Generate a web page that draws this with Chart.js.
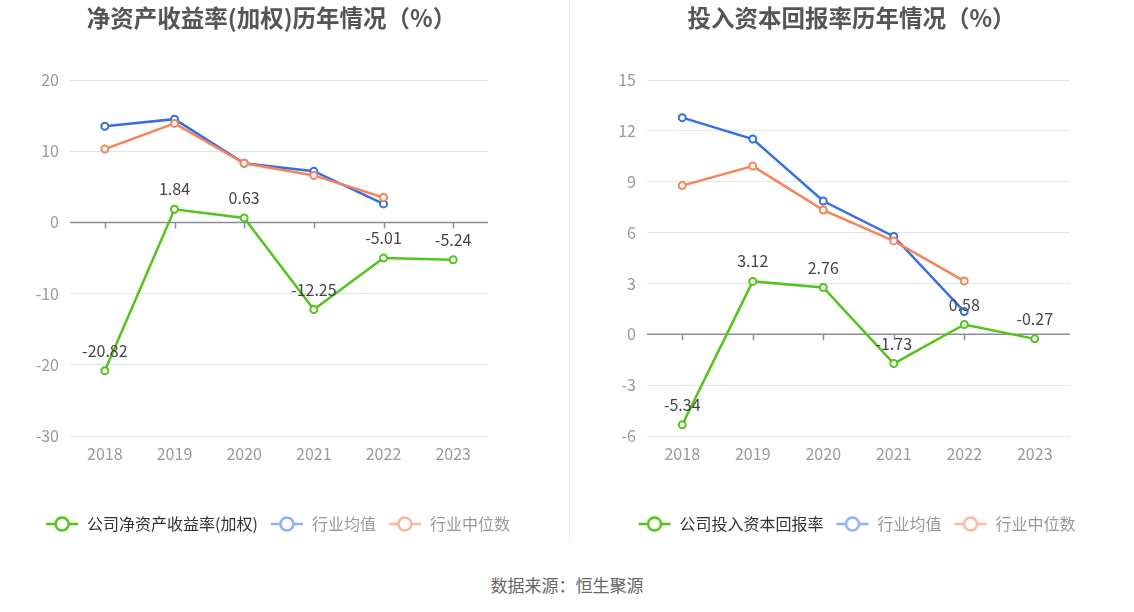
<!DOCTYPE html>
<html>
<head>
<meta charset="utf-8">
<script src="https://cdn.jsdelivr.net/npm/chart.js@4/dist/chart.umd.min.js"></script>
<style>
  html, body { margin: 0; padding: 0; background: #fff; }
  #page { position: relative; width: 1134px; height: 612px; font-family: "Noto Sans CJK SC", "Noto Sans", sans-serif; }
  .panel { position: absolute; top: 0; width: 567px; height: 552px; }
  .title { position: absolute; top: 2px; width: 567px; text-align: center; font-size: 23.5px; font-weight: bold; color: #555; line-height: 30px; }
  #divider { position: absolute; left: 569px; top: 0; width: 1px; height: 542px; background: #eceef2; }
  #source { position: absolute; left: 0; width: 1134px; top: 572px; text-align: center; font-size: 17px; color: #666; }
</style>
</head>
<body>
<div id="page">
  <div class="panel" style="left:-6px"><canvas id="roe"></canvas></div>
  <div class="panel" style="left:573px"><canvas id="roic"></canvas></div>
  <div class="title" style="left:-12px">净资产收益率(加权)历年情况（%）</div>
  <div class="title" style="left:568px">投入资本回报率历年情况（%）</div>
  <div id="divider"></div>
  <div id="source">数据来源：恒生聚源</div>
</div>
<script>
// data
const years = ['2018', '2019', '2020', '2021', '2022', '2023'];

const roeCompany = [-20.82, 1.84, 0.63, -12.25, -5.01, -5.24];
const roeAvg = [13.5, 14.5, 8.3, 7.2, 2.6, null];
const roeMedian = [10.3, 13.9, 8.3, 6.6, 3.5, null];
const roeTicks = { min: -30, max: 20, step: 10 };

const roicCompany = [-5.34, 3.12, 2.76, -1.73, 0.58, -0.27];
const roicAvg = [12.78, 11.52, 7.86, 5.77, 1.34, null];
const roicMedian = [8.77, 9.92, 7.33, 5.51, 3.14, null];
const roicTicks = { min: -6, max: 15, step: 3 };

const GREEN = '#52c41a';
const BLUE = '#3470e4';
const ORANGE = '#f5845a';
const FONT = '"Noto Sans CJK SC", "Noto Sans", sans-serif';

function legendIcon(color) {
  const c = document.createElement('canvas');
  c.width = 34; c.height = 18;
  const g = c.getContext('2d');
  g.strokeStyle = color;
  g.lineWidth = 2.5;
  g.beginPath(); g.moveTo(1, 9); g.lineTo(33, 9); g.stroke();
  g.fillStyle = '#fff';
  g.beginPath(); g.arc(17, 9, 6.5, 0, Math.PI * 2); g.fill(); g.stroke();
  return c;
}

// zero line with ticks at each category, like the reference axis
const zeroAxis = {
  id: 'zeroAxis',
  beforeDatasetsDraw(chart) {
    const { ctx, chartArea, scales: { x, y } } = chart;
    const y0 = y.getPixelForValue(0);
    ctx.save();
    ctx.strokeStyle = '#8a8d97';
    ctx.lineWidth = 1.5;
    ctx.beginPath();
    ctx.moveTo(chartArea.left, y0);
    ctx.lineTo(chartArea.right, y0);
    years.forEach((_, i) => {
      const px = Math.round(x.getPixelForValue(i)) + 0.5;
      ctx.moveTo(px, y0);
      ctx.lineTo(px, y0 + 6);
    });
    ctx.stroke();
    ctx.restore();
  }
};

// value labels above the company series
const valueLabels = {
  id: 'valueLabels',
  afterDatasetsDraw(chart) {
    const { ctx } = chart;
    const meta = chart.getDatasetMeta(0);
    const values = chart.data.datasets[0].data;
    ctx.save();
    ctx.font = '16px ' + FONT;
    ctx.fillStyle = '#444';
    ctx.textAlign = 'center';
    ctx.textBaseline = 'middle';
    meta.data.forEach((pt, i) => {
      if (values[i] == null) return;
      ctx.fillText(values[i].toFixed(2), pt.x, pt.y - 20);
    });
    ctx.restore();
  }
};

function lineSet(label, data, color, order) {
  return {
    label, data, order,
    borderColor: color,
    backgroundColor: '#fff',
    borderWidth: 2.5,
    pointRadius: 3.5,
    pointBorderWidth: 2,
    pointBackgroundColor: '#fff',
    pointBorderColor: color,
    tension: 0,
    spanGaps: false
  };
}

function makeChart(id, companyLabel, company, avg, median, ticks, yWidth, rightPad) {
  const legendColors = [
    { icon: legendIcon(GREEN), text: '#333' },
    { icon: legendIcon('#8fb0f5'), text: '#999' },
    { icon: legendIcon('#f9b8a0'), text: '#999' }
  ];
  return new Chart(document.getElementById(id), {
    type: 'line',
    data: {
      labels: years,
      datasets: [
        lineSet(companyLabel, company, GREEN, 2),
        lineSet('行业均值', avg, BLUE, 1),
        lineSet('行业中位数', median, ORANGE, 0)
      ]
    },
    options: {
      responsive: true,
      maintainAspectRatio: false,
      animation: false,
      layout: { padding: { left: 0, right: 0, top: 80, bottom: 10 } },
      plugins: {
        title: { display: false },
        legend: {
          position: 'bottom',
          labels: {
            usePointStyle: true,
            pointStyleWidth: 34,
            padding: 12,
            font: { family: FONT, size: 16 },
            generateLabels: (chart) => chart.data.datasets.map((ds, i) => ({
              text: ds.label,
              pointStyle: legendColors[i].icon,
              fontColor: legendColors[i].text,
              fillStyle: '#fff',
              strokeStyle: ds.borderColor,
              lineWidth: 0,
              hidden: false,
              datasetIndex: i
            }))
          }
        },
        tooltip: { enabled: false }
      },
      scales: {
        x: {
          offset: true,
          afterFit: (s) => { s.height = 68; },
          grid: { display: false, drawTicks: false },
          border: { display: false },
          ticks: { color: '#999', font: { family: FONT, size: 16 }, padding: 8 }
        },
        y: {
          min: ticks.min,
          max: ticks.max,
          afterFit: (s) => { s.width = yWidth; },
          grid: { color: (c) => c.tick.value === 0 ? 'rgba(0,0,0,0)' : '#e0e6f1', drawTicks: false },
          border: { display: false },
          ticks: { stepSize: ticks.step, color: '#999', font: { family: FONT, size: 16 }, padding: 11 }
        },
        // empty right-hand gutter so the plot stops where the reference does
        gutter: {
          type: 'linear',
          position: 'right',
          afterFit: (s) => { s.width = rightPad; },
          grid: { display: false, drawTicks: false },
          border: { display: false },
          ticks: { display: false }
        }
      }
    },
    plugins: [zeroAxis, valueLabels]
  });
}

makeChart('roe', '公司净资产收益率(加权)', roeCompany, roeAvg, roeMedian, roeTicks, 76, 73);
makeChart('roic', '公司投入资本回报率', roicCompany, roicAvg, roicMedian, roicTicks, 74, 70);
</script>
</body>
</html>
